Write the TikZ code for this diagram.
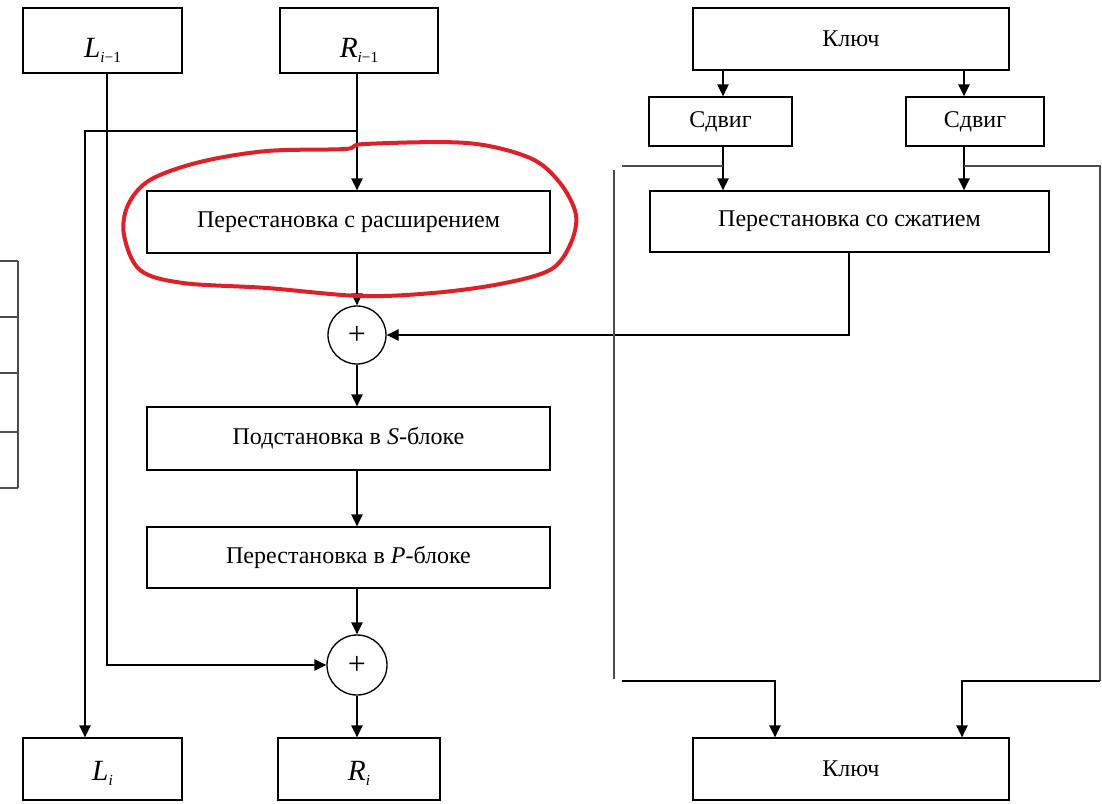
\documentclass[tikz,border=0pt]{standalone}
\usepackage{fontspec}
\setmainfont{Liberation Serif}
\usetikzlibrary{arrows.meta}
\newcommand{\bigsym}[2]{{\fontsize{22}{23}\selectfont\textit{#1}}\raisebox{-3.8pt}{\fontsize{11.5}{12}\selectfont #2}}
\begin{document}
\begin{tikzpicture}[x=0.75pt,y=-0.75pt,
  box/.style={draw, line width=1pt, inner sep=0pt, font=\fontsize{18}{20}\selectfont},
  lbox/.style={box, text height=#1, text depth=0pt},
  gl/.style={line width=1.1pt, draw=black!70},
  arr/.style={line width=1pt, -{Triangle[length=9pt,width=8.5pt]}},
  xor/.style={draw, circle, line width=1pt, inner sep=0pt, font=\fontsize{24}{24}\selectfont},
  redc/.style={draw={rgb,255:red,222;green,32;blue,40}, line width=3pt, line join=round}]
\useasboundingbox (0,0) rectangle (1102,803);
% column coordinates
\coordinate (xa) at (85,0);
\coordinate (xb) at (107,0);
\coordinate (xc) at (357,0);
\coordinate (xk1) at (723,0);
\coordinate (xk2) at (964,0);
\coordinate (xk3) at (775,0);
\coordinate (xk4) at (962,0);
\coordinate (xcp) at (849,0);
% left nodes
\node[lbox=24.8pt, minimum width=119.25pt, minimum height=48.75pt] (L1) at (102.5,40.5) {\bigsym{L}{\textit{i}−1}};
\node[lbox=24.8pt, minimum width=118.5pt, minimum height=48.75pt] (R1) at (359,40.5) {\bigsym{R}{\textit{i}−1}};
\node[box, minimum width=302.25pt, minimum height=46.5pt] (E) at (348.5,222) {Перестановка с расширением};
\node[xor, minimum size=43.5pt] (C1) at (357,335) {+};
\node[box, minimum width=302.25pt, minimum height=47.25pt] (S) at (348.5,438.5) {Подстановка в \textit{S}-блоке};
\node[box, minimum width=302.25pt, minimum height=45.75pt] (P) at (348.5,557.5) {Перестановка в \textit{P}-блоке};
\node[xor, minimum size=45pt] (C2) at (357,665) {+};
\node[lbox=16.5pt, minimum width=119.25pt, minimum height=46.5pt] (L2) at (102.5,769) {\bigsym{L}{\textit{i}}};
\node[lbox=16.5pt, minimum width=121.5pt, minimum height=46.5pt] (R2) at (359,769) {\bigsym{R}{\textit{i}}};
% right nodes
\node[box, minimum width=237pt, minimum height=46.5pt] (K1) at (851,39) {Ключ};
\node[box, minimum width=107.25pt, minimum height=36.75pt] (SH1) at (720.5,121.5) {Сдвиг};
\node[box, minimum width=103.5pt, minimum height=36.75pt] (SH2) at (975,121.5) {Сдвиг};
\node[box, minimum width=299.25pt, minimum height=45.75pt] (CP) at (849.5,221.5) {Перестановка со сжатием};
\node[box, minimum width=237pt, minimum height=46.5pt] (K2) at (851,769) {Ключ};
% left connectors
\coordinate (br) at (357,131);
\draw[arr] (L1.south -| xb) |- (C2.west);
\draw[arr] (R1.south -| xc) -- (E.north -| xc);
\draw[arr] (br) -| (L2.north -| xa);
\draw[arr] (E.south -| xc) -- (C1.north);
\draw[arr] (C1.south) -- (S.north -| xc);
\draw[arr] (S.south -| xc) -- (P.north -| xc);
\draw[arr] (P.south -| xc) -- (C2.north);
\draw[arr] (C2.south) -- (R2.north -| xc);
\draw[arr] (CP.south -| xcp) |- (C1.east);
% right connectors
\draw[arr] (K1.south -| xk1) -- (SH1.north -| xk1);
\draw[arr] (K1.south -| xk2) -- (SH2.north -| xk2);
\draw[arr] (SH1.south -| xk1) -- (CP.north -| xk1);
\draw[arr] (SH2.south -| xk2) -- (CP.north -| xk2);
\coordinate (bl1) at (723,166);
\coordinate (bl2) at (622,166);
\coordinate (vl1) at (614,170);
\coordinate (vl2) at (614,679);
\coordinate (bl3) at (622,681);
\draw[gl] (bl1) -- (bl2);
\draw[gl] (vl1) -- (vl2);
\draw[arr] (bl3) -| (K2.north -| xk3);
\coordinate (br1) at (964,166);
\coordinate (br2) at (1100,681);
\draw[gl] (br1) -| (br2);
\draw[arr] (br2) -| (K2.north -| xk4);
% partial table at left edge
\foreach \yy in {261,317,373,432,488} \draw[gl] (0,\yy) -- (18,\yy);
\draw[gl] (18,261) -- (18,488);
% red hand-drawn loop
\draw[redc] plot[smooth cycle, tension=0.55] coordinates {
 (150,180) (200,162) (267,151) (345,149) (365,144) (467,143) (530,158)
 (560,183) (576,215) (570,245) (550,270) (500,284) (433,293) (360,296)
 (267,288) (183,283) (140,270) (124,235) (128,205)};
\end{tikzpicture}
\end{document}
